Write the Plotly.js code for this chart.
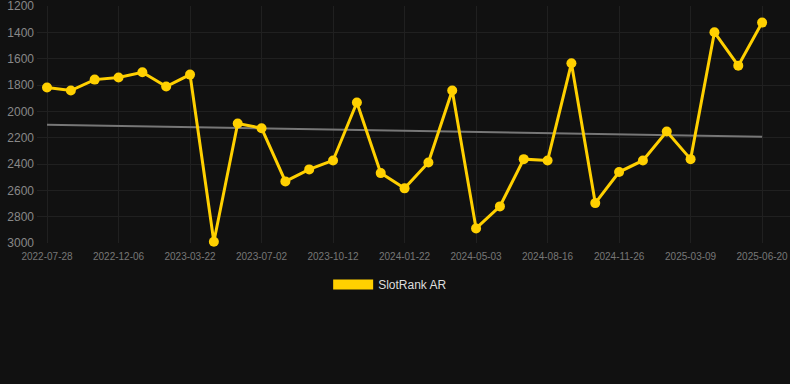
<!DOCTYPE html>
<html>
<head>
<meta charset="utf-8">
<script src="https://cdn.plot.ly/plotly-3.0.1.min.js"></script>
<style>
  html, body { margin: 0; padding: 0; background: #111111; }
  #chart { width: 790px; height: 384px; }
</style>
</head>
<body>
<div id="chart"></div>
<script>
// Rank values (lower is better), one per period, equally spaced
const seriesName = "SlotRank AR";
const rankValues = [
  1819, 1842, 1759, 1743, 1703, 1812, 1721, 2990, 2092, 2128,
  2532, 2441, 2373, 1933, 2469, 2585, 2388, 1842, 2889, 2722,
  2363, 2373, 1635, 2697, 2461, 2373, 2153, 2363, 1400, 1653, 1326
];
// Tick labels shown every third period
const tickLabels = [
  "2022-07-28", "2022-12-06", "2023-03-22", "2023-07-02", "2023-10-12",
  "2024-01-22", "2024-05-03", "2024-08-16", "2024-11-26", "2025-03-09", "2025-06-20"
];
const tickStep = 3;
const yTicks = [1200, 1400, 1600, 1800, 2000, 2200, 2400, 2600, 2800, 3000];

const xIdx = rankValues.map((_, i) => i);
const tickVals = tickLabels.map((_, i) => i * tickStep);

// linear regression trend
const n = rankValues.length;
const mx = xIdx.reduce((a, b) => a + b, 0) / n;
const my = rankValues.reduce((a, b) => a + b, 0) / n;
let num = 0, den = 0;
for (let i = 0; i < n; i++) { num += (xIdx[i] - mx) * (rankValues[i] - my); den += (xIdx[i] - mx) ** 2; }
const slope = num / den;
const icpt = my - slope * mx;
const trendX = [xIdx[0], xIdx[n - 1]];
const trendY = trendX.map(x => icpt + slope * x);

const gold = "#FFD000";

const traces = [
  {
    x: trendX, y: trendY, type: "scatter", mode: "lines",
    line: { color: "#777777", width: 2 },
    showlegend: false, hoverinfo: "skip"
  },
  {
    x: xIdx, y: rankValues, type: "scatter", mode: "lines+markers",
    name: seriesName,
    line: { color: gold, width: 3 },
    marker: { color: gold, size: 10 },
    cliponaxis: false,
    showlegend: false
  },
  {
    x: [null], y: [null], type: "scatter", mode: "lines",
    name: seriesName,
    line: { color: gold, width: 11 },
    showlegend: true
  }
];

const layout = {
  width: 790, height: 384,
  paper_bgcolor: "#111111", plot_bgcolor: "#111111",
  margin: { l: 37, r: 0, t: 6, b: 141 },
  font: { family: "Liberation Sans, Arial, sans-serif", color: "#888888" },
  showlegend: true,
  legend: {
    orientation: "h", x: 0.469, xanchor: "center", y: -0.114, yanchor: "top",
    font: { size: 12, color: "#dddddd" },
    itemwidth: 40, bgcolor: "rgba(0,0,0,0)"
  },
  xaxis: {
    type: "linear",
    range: [-0.42, 31.17],
    tickmode: "array", tickvals: tickVals, ticktext: tickLabels,
    tickfont: { size: 10, color: "#777777" },
    ticklabeloverflow: "allow",
    showgrid: true, gridcolor: "#202020", gridwidth: 1,
    zeroline: false, showline: false, ticks: "",
    ticklabelstandoff: 6
  },
  yaxis: {
    range: [3000, 1200],
    tickmode: "array", tickvals: yTicks,
    tickfont: { size: 12, color: "#888888" },
    ticklabeloverflow: "allow",
    showgrid: true, gridcolor: "#202020", gridwidth: 1,
    zeroline: false, showline: false, ticks: "",
    ticklabelstandoff: 2
  }
};

Plotly.newPlot("chart", traces, layout, { displayModeBar: false, staticPlot: true });
</script>
</body>
</html>
